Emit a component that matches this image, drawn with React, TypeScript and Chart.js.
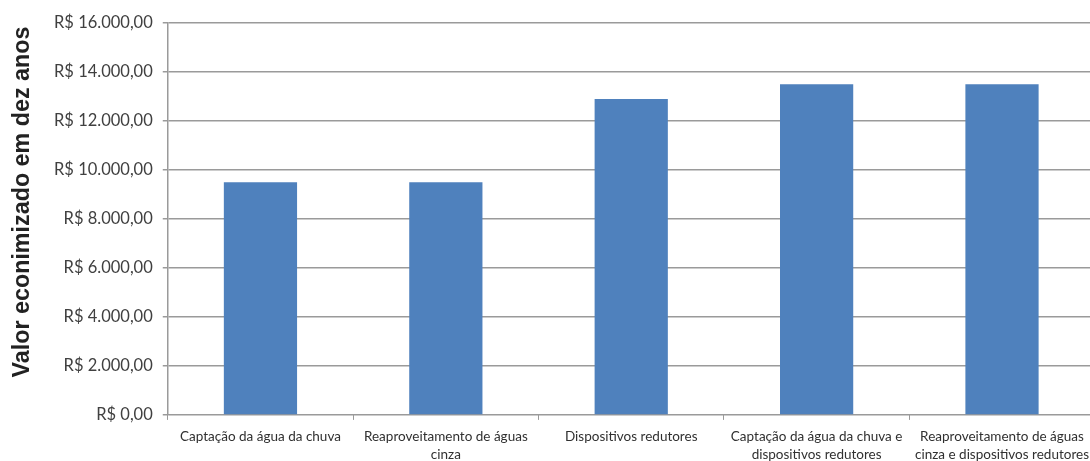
import React, { useEffect, useRef } from "react";
import { Chart, registerables } from "chart.js";

Chart.register(...registerables);

const categories: (string | string[])[] = [
  "Captação da água da chuva",
  ["Reaproveitamento de águas", "cinza"],
  "Dispositivos redutores",
  ["Captação da água da chuva e", "dispositivos redutores"],
  ["Reaproveitamento de águas", "cinza e dispositivos redutores"],
];
const savings: number[] = [9500, 9500, 12900, 13500, 13500];
const yMin = 0;
const yMax = 16000;
const yStep = 2000;
const yTitle = "Valor econimizado em dez anos";

const formatBRL = (v: number) =>
  "R$ " +
  v.toLocaleString("pt-BR", { minimumFractionDigits: 2, maximumFractionDigits: 2 });

const yTitlePlugin = {
  id: "yTitlePlugin",
  afterDraw(chart: any) {
    const ctx = chart.ctx;
    ctx.save();
    ctx.translate(23, 202);
    ctx.rotate(-Math.PI / 2);
    ctx.textAlign = "center";
    ctx.textBaseline = "middle";
    ctx.fillStyle = "#222222";
    ctx.font = "bold 23.3px 'Liberation Sans'";
    ctx.fillText(yTitle, 0, 0);
    ctx.restore();
  },
};

export default function App() {
  const ref = useRef<HTMLCanvasElement | null>(null);
  useEffect(() => {
    if (!ref.current) return;
    const chart = new Chart(ref.current, {
      type: "bar",
      data: {
        labels: categories,
        datasets: [
          {
            data: savings,
            backgroundColor: "#4F81BD",
            borderWidth: 0,
            barPercentage: 0.395,
            categoryPercentage: 1,
          },
        ],
      },
      plugins: [yTitlePlugin],
      options: {
        animation: false,
        responsive: true,
        maintainAspectRatio: false,
        layout: { padding: { top: 23, right: 0, left: 44, bottom: -10 } },
        plugins: { legend: { display: false }, tooltip: { enabled: false } },
        scales: {
          x: {
            grid: {
              offset: true,
              drawOnChartArea: false,
              drawTicks: true,
              tickLength: 5,
              color: "#9a9a9a",
            },
            border: { color: "#9a9a9a", width: 1 },
            ticks: {
              color: "#303030",
              font: { family: "Lato", size: 13.5, lineHeight: 1.3 },
              maxRotation: 0,
              autoSkip: false,
              padding: 8,
            },
          },
          y: {
            min: yMin,
            max: yMax,
            ticks: {
              stepSize: yStep,
              color: "#404040",
              font: { family: "Lato", size: 16.5 },
              padding: 10,
              callback: (v: any) => formatBRL(Number(v)),
            },
            grid: { color: "#9a9a9a", tickLength: 5, lineWidth: 1.5 },
            border: { color: "#9a9a9a", width: 1.5 },
          },
        },
      },
    });
    return () => chart.destroy();
  }, []);
  return (
    <div style={{ position: "absolute", left: 0, top: 0, width: 1090, height: 461, overflow: "hidden", background: "#fff" }}>
      <div style={{ position: "relative", width: 1097, height: 461 }}>
        <canvas ref={ref} />
      </div>
    </div>
  );
}
